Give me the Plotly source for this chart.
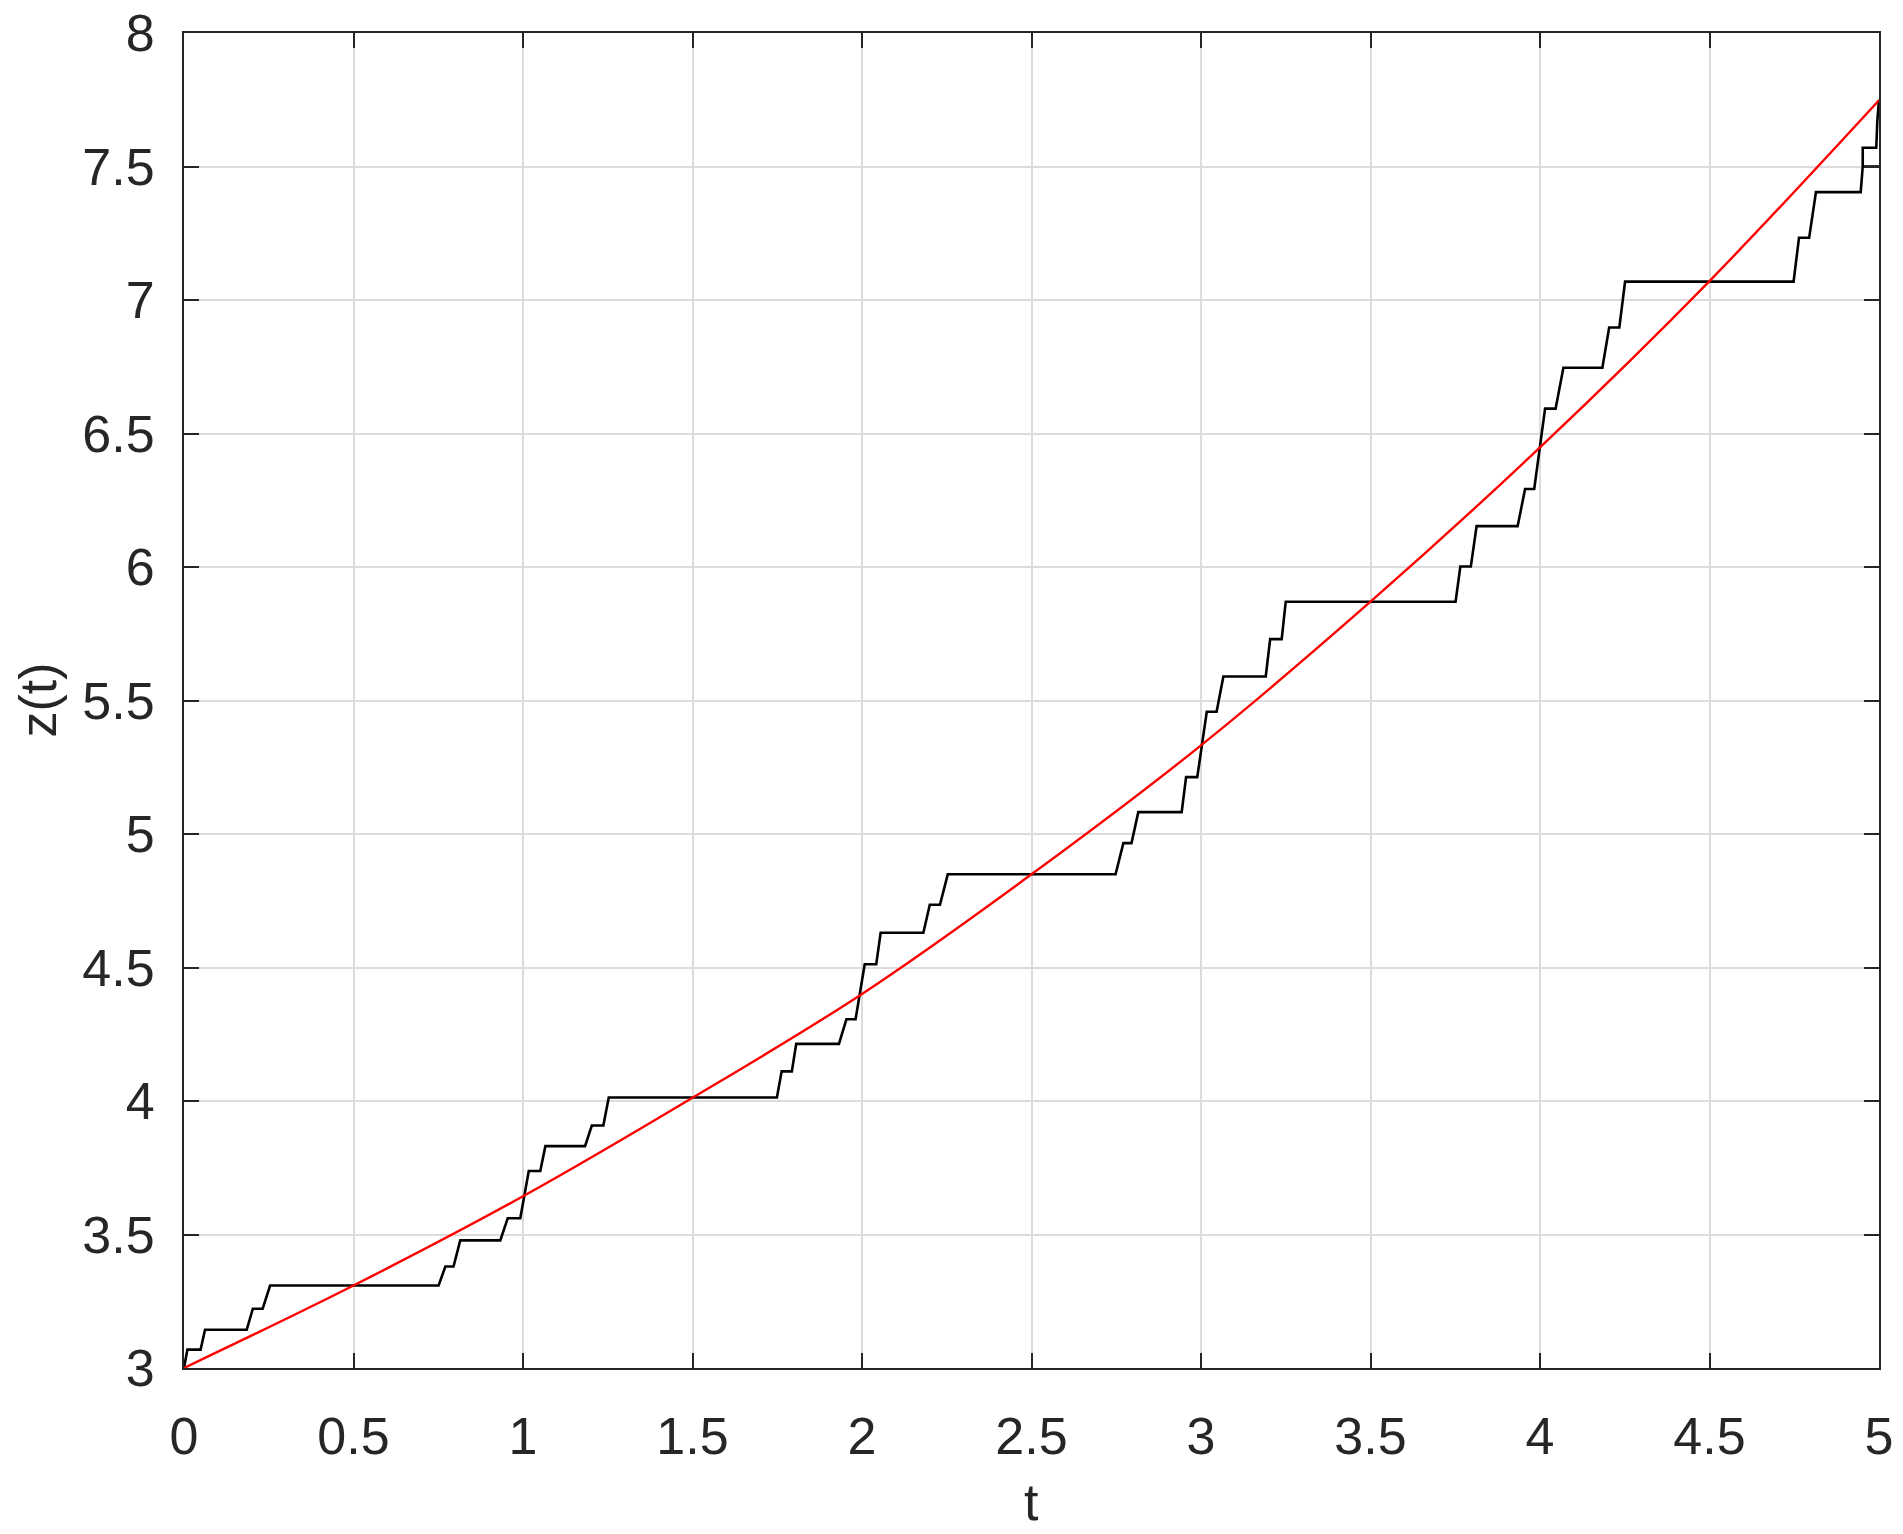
import plotly.graph_objects as go

# Red smooth curve (at t = 0, 0.5, ..., 5)
red_t = [0.0, 0.5, 1.0, 1.5, 2.0, 2.5, 3.0, 3.5, 4.0, 4.5, 5.0]
red_z = [3.000, 3.309, 3.643, 4.012, 4.401, 4.849, 5.332, 5.870, 6.448, 7.071, 7.748]

# Black staircase vertices
black_t = [0.000, 0.010, 0.049, 0.062, 0.185, 0.203, 0.232, 0.254,
           0.751, 0.771, 0.795, 0.815, 0.933, 0.955, 0.992, 1.017,
           1.051, 1.066, 1.183, 1.203, 1.237, 1.253,
           1.749, 1.763, 1.793, 1.806, 1.932, 1.954, 1.981, 2.008,
           2.042, 2.055, 2.181, 2.200, 2.230, 2.253,
           2.748, 2.771, 2.795, 2.815, 2.943, 2.956, 2.989, 3.017,
           3.046, 3.066, 3.191, 3.204, 3.238, 3.250,
           3.751, 3.765, 3.796, 3.813, 3.934, 3.956, 3.983, 4.015,
           4.046, 4.069, 4.184, 4.204, 4.234, 4.251,
           4.748, 4.764, 4.794, 4.814, 4.946, 4.952, 4.952, 4.992,
           4.995, 5.000, None, 4.952, 5.000]
black_z = [3.000, 3.069, 3.069, 3.143, 3.143, 3.222, 3.222, 3.309,
           3.309, 3.380, 3.380, 3.478, 3.478, 3.561, 3.561, 3.738,
           3.738, 3.831, 3.831, 3.908, 3.908, 4.013,
           4.013, 4.111, 4.111, 4.214, 4.214, 4.306, 4.306, 4.512,
           4.512, 4.630, 4.630, 4.735, 4.735, 4.849,
           4.849, 4.966, 4.966, 5.082, 5.082, 5.213, 5.213, 5.458,
           5.458, 5.590, 5.590, 5.730, 5.730, 5.870,
           5.870, 6.002, 6.002, 6.153, 6.153, 6.292, 6.292, 6.593,
           6.593, 6.746, 6.746, 6.897, 6.897, 7.069,
           7.069, 7.233, 7.233, 7.404, 7.404, 7.500, 7.570, 7.570,
           7.670, 7.750, None, 7.500, 7.500]

x_ticks = [0, 0.5, 1, 1.5, 2, 2.5, 3, 3.5, 4, 4.5, 5]
y_ticks = [3, 3.5, 4, 4.5, 5, 5.5, 6, 6.5, 7, 7.5, 8]

AX = "#262626"
GRID = "#dcdcdc"
FONT = "Liberation Sans, Arial, sans-serif"
FS = 52

fig = go.Figure()
fig.add_trace(go.Scatter(x=black_t, y=black_z, mode="lines",
                         line=dict(color="black", width=2.6), connectgaps=False,
                         showlegend=False, hoverinfo="skip"))
fig.add_trace(go.Scatter(x=red_t, y=red_z, mode="lines",
                         line=dict(color="#ff0000", width=2.4, shape="spline"),
                         showlegend=False, hoverinfo="skip"))

axis_common = dict(
    showline=True, linecolor=AX, linewidth=2, mirror="ticks",
    ticks="inside", ticklen=15, tickwidth=2, tickcolor=AX,
    showgrid=True, gridcolor=GRID, gridwidth=2, zeroline=False,
    tickfont=dict(family=FONT, size=FS, color=AX),
    ticklabeloverflow="allow",
)
fig.update_xaxes(range=[0, 5], tickvals=x_ticks,
                 ticktext=[f"{v:g}" for v in x_ticks],
                 ticklabelstandoff=22, **axis_common)
fig.update_yaxes(range=[3, 8], tickvals=y_ticks,
                 ticktext=[f"{v:g}" for v in y_ticks],
                 ticklabelstandoff=17, **axis_common)

fig.add_annotation(text="t", x=0.5, y=0, xref="paper", yref="paper",
                   xanchor="center", yanchor="middle", yshift=-134,
                   showarrow=False, font=dict(family=FONT, size=FS, color=AX))
fig.add_annotation(text="z(t)", x=0, y=0.5, xref="paper", yref="paper",
                   xanchor="center", yanchor="middle", xshift=-147,
                   textangle=-90, showarrow=False,
                   font=dict(family=FONT, size=FS, color=AX))

fig.update_layout(width=1903, height=1534,
                  margin=dict(l=184, r=24, t=33, b=166, autoexpand=False),
                  paper_bgcolor="white", plot_bgcolor="white")
fig.write_html("out.html",
               config={"displayModeBar": False},
               post_script="document.body.style.margin='0px';"
                           "document.body.style.overflow='hidden';")
